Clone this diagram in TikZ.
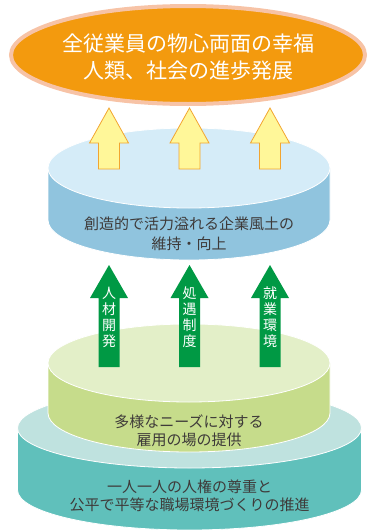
\documentclass[tikz,border=0pt]{standalone}
\usepackage{fontspec}
\setmainfont{Noto Sans CJK JP}
\definecolor{orfill}{HTML}{F39A0E}
\definecolor{orline}{HTML}{F7C3A6}
\definecolor{yelfill}{HTML}{FFF799}
\definecolor{yelline}{HTML}{F2A530}
\definecolor{bluetop}{HTML}{D5ECF8}
\definecolor{blueside}{HTML}{90C4DE}
\definecolor{greentop}{HTML}{E3EFC8}
\definecolor{greenside}{HTML}{C6DC8B}
\definecolor{tealtop}{HTML}{BFE2DF}
\definecolor{tealside}{HTML}{60C0BB}
\definecolor{arrgreen}{HTML}{009944}
\definecolor{txtgray}{HTML}{3E3A39}
\tikzset{
  darktext/.style={text=txtgray, align=center, font=\fontsize{15pt}{19pt}\selectfont},
  vtext/.style={text=white, align=center, font=\fontsize{14pt}{16pt}\selectfont},
  edge/.style={draw=white, line width=0.8pt},
}
% cylinder: #1 cx, #2 top cy, #3 bottom cy, #4 rx, #5 ry, #6 top colour, #7 side colour
\newcommand{\mycyl}[7]{%
  \path[fill=#7, edge] (#1-#4,#2) -- (#1-#4,#3) arc[start angle=180, end angle=360, x radius=#4pt, y radius=#5pt] -- (#1+#4,#2) -- cycle;
  \path[fill=#6, edge] (#1,#2) ellipse[x radius=#4pt, y radius=#5pt];
}
% arrow: #1 cx, #2 tip y, #3 head base y, #4 bottom y, #5 head half, #6 shaft half
\newcommand{\myarrow}[7]{%
  \path[#7] (#1,#2) -- (#1+#5,#3) -- (#1+#6,#3) -- (#1+#6,#4) -- (#1-#6,#4) -- (#1-#6,#3) -- (#1-#5,#3) -- cycle;
}
\begin{document}
\begin{tikzpicture}[x=1pt,y=-1pt]
\useasboundingbox (0,0) rectangle (370,530);
% teal base
\mycyl{189.5}{428}{490}{172}{40}{tealtop}{tealside}
% green cylinder
\mycyl{189}{363}{413}{141}{39}{greentop}{greenside}
% green arrows
\myarrow{109}{265}{298}{367}{19}{10.5}{fill=arrgreen}
\myarrow{189.5}{265}{298}{367}{19}{10.5}{fill=arrgreen}
\myarrow{270}{265}{298}{367}{19}{10.5}{fill=arrgreen}
\node[vtext] (a1) at (109,317) {人\\材\\開\\発};
\node[vtext] (a2) at (189.5,317) {処\\遇\\制\\度};
\node[vtext] (a3) at (270,317) {就\\業\\環\\境};
% blue cylinder
\mycyl{189}{168}{220}{141}{40}{bluetop}{blueside}
% yellow arrows
\myarrow{109}{108}{143}{169}{19.5}{10.5}{fill=yelfill, draw=yelline, line width=0.8pt, line join=miter}
\myarrow{189.5}{108}{143}{169}{19.5}{10.5}{fill=yelfill, draw=yelline, line width=0.8pt, line join=miter}
\myarrow{270}{108}{143}{169}{19.5}{10.5}{fill=yelfill, draw=yelline, line width=0.8pt, line join=miter}
% top ellipse
\path[fill=orfill, draw=orline, line width=4pt] (188,55) ellipse[x radius=177pt, y radius=49pt];
\node[text=white, align=center, font=\fontsize{21pt}{27pt}\selectfont] (top) at (188,57) {全従業員の物心両面の幸福\\人類、社会の進歩発展};
% texts
\node[darktext, font=\fontsize{15pt}{20pt}\selectfont] (blue) at (189,234) {創造的で活力溢れる企業風土の\\維持・向上};
\node[darktext, font=\fontsize{15pt}{18.5pt}\selectfont] (green) at (189,431) {多様なニーズに対する\\雇用の場の提供};
\node[darktext, font=\fontsize{15pt}{18.5pt}\selectfont] (teal) at (189.5,496) {一人一人の人権の尊重と\\公平で平等な職場環境づくりの推進};
\end{tikzpicture}
\end{document}
